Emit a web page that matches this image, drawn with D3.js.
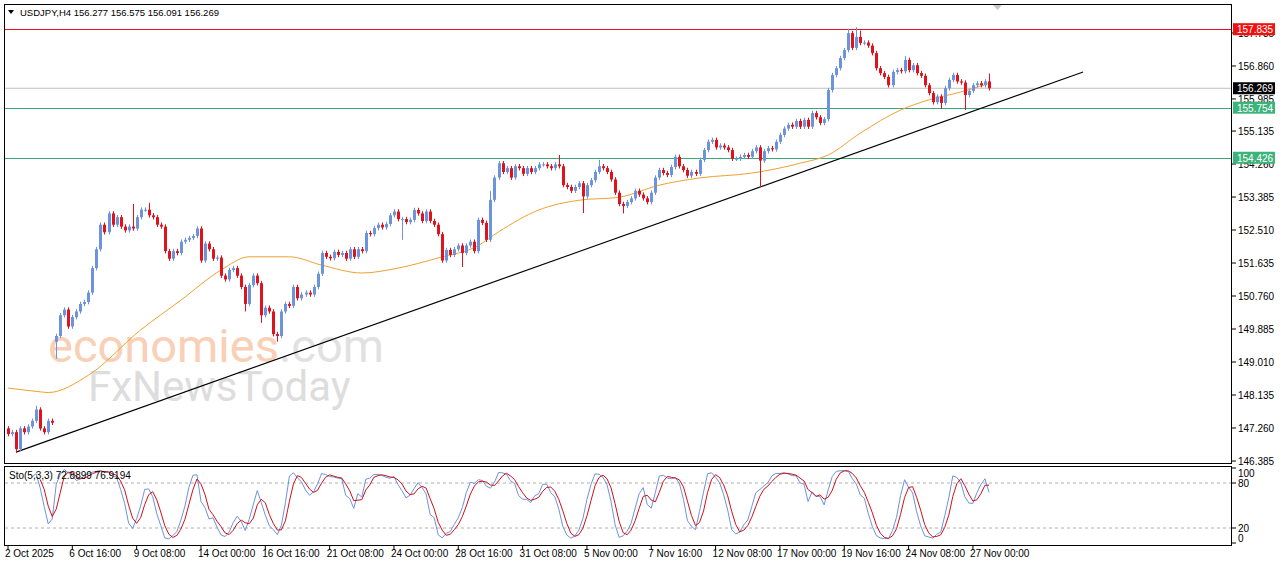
<!DOCTYPE html>
<html><head><meta charset="utf-8">
<script src="https://cdn.jsdelivr.net/npm/d3@7/dist/d3.min.js"></script>
<style>body{margin:0;background:#fff;overflow:hidden}svg{display:block;font-family:"Liberation Sans",Arial,sans-serif}</style>
</head><body><svg id="c" width="1280" height="567"></svg>
<script>
// ---- data ----
const closes = [147.10,147.15,146.70,147.25,147.15,147.30,147.45,147.75,147.25,147.15,147.45,147.40,
149.70,150.25,150.40,149.95,150.20,150.35,150.55,150.60,150.85,151.50,152.00,152.65,152.45,152.95,152.65,152.85,
152.60,152.50,152.60,152.55,152.85,153.05,153.05,152.90,152.85,152.65,152.60,151.95,151.75,151.95,151.90,152.20,
152.25,152.30,152.35,152.55,151.70,152.15,152.00,151.75,151.78,151.30,151.20,151.45,151.50,151.30,151.00,150.55,
151.05,151.30,151.10,150.25,150.45,150.35,149.75,149.70,150.35,150.55,150.50,151.00,150.70,150.80,150.85,150.80,
151.00,151.35,151.90,151.80,151.76,151.93,151.85,151.90,151.75,152.00,151.80,152.00,151.95,152.43,152.40,152.56,
152.65,152.58,152.67,152.90,153.00,152.80,152.80,152.72,152.78,153.04,152.95,152.75,153.00,152.75,152.65,152.40,
151.70,151.98,151.85,152.00,152.10,151.90,152.10,152.20,151.95,152.78,152.70,152.25,153.31,153.90,154.28,154.05,
154.15,153.90,154.20,154.15,154.00,154.15,154.05,154.15,154.25,154.25,154.20,154.15,154.25,154.20,153.70,153.65,
153.55,153.65,153.75,153.40,153.70,153.83,154.05,154.20,154.15,154.05,153.85,153.50,153.20,153.15,153.25,153.35,
153.55,153.45,153.35,153.25,153.50,153.90,154.10,154.02,153.97,154.18,154.45,154.20,154.10,153.95,154.05,154.00,
154.37,154.63,154.85,154.90,154.70,154.75,154.70,154.63,154.40,154.40,154.45,154.50,154.45,154.60,154.70,154.35,
154.60,154.68,154.65,154.85,155.03,155.20,155.30,155.25,155.40,155.25,155.43,155.25,155.61,155.50,155.35,155.45,
156.22,156.62,156.80,157.07,157.28,157.73,157.34,157.63,157.47,157.48,157.40,157.20,156.80,156.67,156.57,156.35,
156.70,156.75,156.72,157.02,156.75,156.88,156.67,156.60,156.35,156.14,155.90,156.05,155.88,156.27,156.49,156.62,
156.45,156.42,156.09,156.20,156.35,156.40,156.35,156.45,156.27];
const openOverride = {0:147.25, 12:149.55};
const defaultWick = 0.06;
const highOverride = {7:147.85, 31:153.20, 35:153.23, 137:154.50, 147:154.37, 209:157.85, 211:157.89, 212:157.80, 244:156.66, 223:157.12, 120:153.55};
const lowOverride = {2:146.60, 12:149.10, 67:149.55, 98:152.25, 113:151.53, 143:152.96, 153:152.95, 187:153.65, 232:155.72, 238:155.69, 63:150.05, 59:150.35};
const maBars   = [0,8,10,20,33,43,53,60,70,78,88,97,107,117,122,132,142,152,162,172,185,197,204,212,222,229,237,244];
const maValues = [148.32,148.22,148.20,148.66,149.86,150.65,151.45,151.80,151.80,151.58,151.37,151.50,151.77,152.10,152.46,153.04,153.30,153.38,153.70,153.89,154.02,154.28,154.50,155.08,155.69,155.96,156.17,156.40];
const priceTicks = [157.735,156.860,155.985,155.135,154.260,153.385,152.510,151.635,150.760,149.885,149.010,148.135,147.260,146.385];
const levels = [{v:157.835,c:"#e8101a",bg:"#f01010",txt:"157.835"},{v:155.754,c:"#3aa876",bg:"#3cb37a",txt:"155.754"},{v:154.426,c:"#3aa876",bg:"#3cb37a",txt:"154.426"}];
const lastPrice = 156.269;
const trend = [{bar:2,p:146.62},{bar:267.4,p:156.70}];
const timeTickBars = [0,16,32,48,64,80,96,112,128,144,160,176,192,208,224,240];
const timeLabels = ["2 Oct 2025","6 Oct 16:00","9 Oct 08:00","14 Oct 00:00","16 Oct 16:00","21 Oct 08:00","24 Oct 00:00","28 Oct 16:00","31 Oct 08:00","5 Nov 00:00","7 Nov 16:00","12 Nov 08:00","17 Nov 00:00","19 Nov 16:00","24 Nov 08:00","27 Nov 00:00"];
const stoLevels = [100,80,20,0];

// ---- build ----
const bars = closes.map((c,i)=>{
  const o = openOverride[i]!==undefined?openOverride[i]:closes[i-1];
  const h = highOverride[i]!==undefined?highOverride[i]:Math.max(o,c)+defaultWick;
  const l = lowOverride[i]!==undefined?lowOverride[i]:Math.min(o,c)-defaultWick;
  return {i,o,h,l,c};
});
const svg = d3.select("#c");
const x = d3.scaleLinear().domain([0,244]).range([8,989]);
const y = d3.scaleLinear().domain([146.385,157.835]).range([461,29.2]);
const ys = d3.scaleLinear().domain([0,100]).range([543,468]);

svg.append("rect").attr("x",4.5).attr("y",4.5).attr("width",1227).attr("height",459).attr("fill","none").attr("stroke","#000");
svg.append("rect").attr("x",4.5).attr("y",466.5).attr("width",1227).attr("height",79).attr("fill","none").attr("stroke","#000");

const wm = svg.append("g").attr("opacity",0.5);
wm.append("text").attr("x",48).attr("y",362).attr("font-family","Roboto,sans-serif").attr("font-size",47)
  .attr("fill","#f5a070").text("economies").append("tspan").attr("fill","#c4c4c4").text(".com");
wm.append("text").attr("x",88).attr("y",401).attr("font-family","Roboto,sans-serif").attr("font-size",42)
  .attr("fill","#bcbcbc").text("FxNewsToday");

svg.append("line").attr("x1",5).attr("x2",1231).attr("y1",y(lastPrice)).attr("y2",y(lastPrice)).attr("stroke","#c0c0c0");
levels.forEach(l=>svg.append("line").attr("x1",5).attr("x2",1231).attr("y1",Math.round(y(l.v))+0.5).attr("y2",Math.round(y(l.v))+0.5).attr("stroke",l.c));

svg.append("path").datum(maBars.map((b,k)=>[b,maValues[k]]))
  .attr("d",d3.line().x(d=>x(d[0])).y(d=>y(d[1])).curve(d3.curveMonotoneX))
  .attr("fill","none").attr("stroke","#f0a030").attr("stroke-width",1);

svg.append("line").attr("x1",x(trend[0].bar)).attr("y1",y(trend[0].p)).attr("x2",x(trend[1].bar)).attr("y2",y(trend[1].p)).attr("stroke","#000").attr("stroke-width",1.1);

const up="#6c93dc", dn="#e0121c";
const g = svg.append("g");
bars.forEach(b=>{
  const col = b.c>=b.o?up:dn, cx=Math.round(x(b.i))+0.5;
  g.append("line").attr("x1",cx).attr("x2",cx).attr("y1",y(b.h)).attr("y2",y(b.l)).attr("stroke",col);
  const t=y(Math.max(b.o,b.c)), bt=y(Math.min(b.o,b.c));
  g.append("rect").attr("x",cx-1.5).attr("y",t).attr("width",3).attr("height",Math.max(1,bt-t)).attr("fill",col);
});

const ax = svg.append("g").attr("font-size",10).attr("fill","#000");
priceTicks.forEach(p=>{
  ax.append("line").attr("x1",1232).attr("x2",1236).attr("y1",y(p)).attr("y2",y(p)).attr("stroke","#000");
  ax.append("text").attr("x",1238).attr("y",y(p)+4).text(p.toFixed(3));
});
function tag(v,bg,txt){
  const yy=y(v);
  svg.append("rect").attr("x",1233).attr("y",yy-6).attr("width",42).attr("height",12).attr("fill",bg);
  svg.append("text").attr("x",1237).attr("y",yy+4).attr("font-size",10).attr("fill","#fff").text(txt);
}
levels.forEach(l=>tag(l.v,l.bg,l.txt));
tag(lastPrice,"#000","156.269");

svg.append("path").attr("d","M8,10 L14,10 L11,14 Z").attr("fill","#000");
svg.append("text").attr("x",20).attr("y",16).attr("font-size",9.5).text("USDJPY,H4 156.277 156.575 156.091 156.269");
svg.append("path").attr("d","M993,5 L1002,5 L997.5,10 Z").attr("fill","#c8c8c8");

const K=5,S=3,D=3, mainS=[], sig=[];
for(let i=0;i<bars.length;i++){
  if(i<K-1+S-1){mainS.push(null);continue;}
  let num=0,den=0;
  for(let j=i-S+1;j<=i;j++){
    const w=bars.slice(j-K+1,j+1), hh=d3.max(w,d=>d.h), ll=d3.min(w,d=>d.l);
    num+=bars[j].c-ll; den+=hh-ll;
  }
  mainS.push(den?100*num/den:50);
}
for(let i=0;i<bars.length;i++){
  const w=mainS.slice(Math.max(0,i-D+1),i+1);
  sig.push(w.length===D&&w.every(v=>v!==null)?d3.mean(w):null);
}
[80,20].forEach(v=>svg.append("line").attr("x1",5).attr("x2",1231).attr("y1",ys(v)).attr("y2",ys(v)).attr("stroke","#b0b0b0").attr("stroke-dasharray","3,3"));
const sl=d3.line().defined(d=>d!==null).x((d,i)=>x(i)).y(d=>ys(d));
svg.append("path").datum(mainS).attr("d",sl).attr("fill","none").attr("stroke","#6c93dc").attr("stroke-width",1);
svg.append("path").datum(sig).attr("d",sl).attr("fill","none").attr("stroke","#d0101a").attr("stroke-width",1);
svg.append("text").attr("x",9).attr("y",479).attr("font-size",10).text("Sto(5,3,3) 72.8899 76.9194");
stoLevels.forEach(v=>{
  const yy=Math.min(Math.max(ys(v),473),538);
  svg.append("line").attr("x1",1232).attr("x2",1236).attr("y1",ys(v)).attr("y2",ys(v)).attr("stroke","#000");
  svg.append("text").attr("x",1238).attr("y",yy+4).attr("font-size",10).text(v);
});

timeTickBars.forEach((b,k)=>{
  const tx=x(b);
  svg.append("line").attr("x1",tx).attr("x2",tx).attr("y1",546).attr("y2",550).attr("stroke","#000");
  svg.append("text").attr("x",tx-3).attr("y",557).attr("font-size",10).text(timeLabels[k]);
});
</script></body></html>
